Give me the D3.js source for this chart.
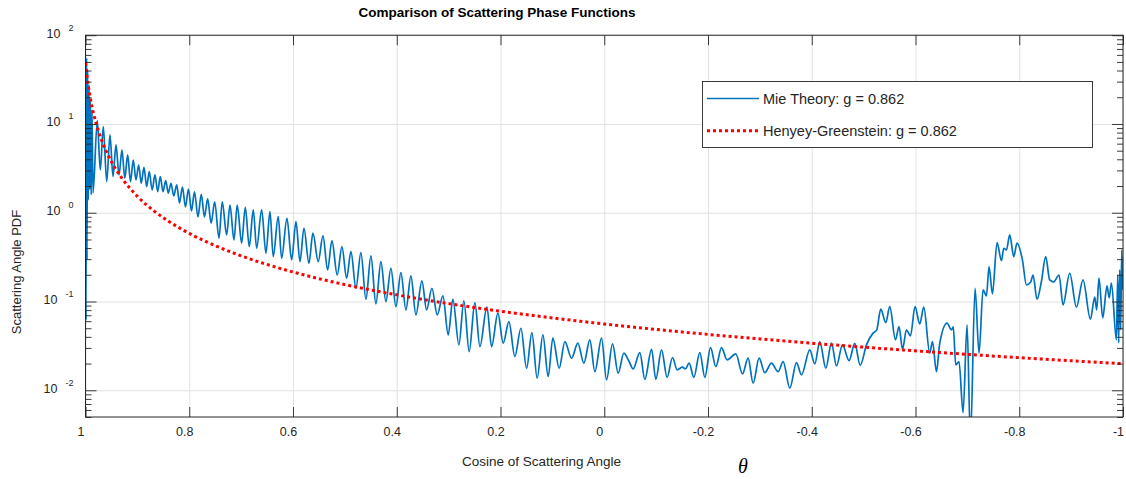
<!DOCTYPE html>
<html>
<head>
<meta charset="utf-8">
<script src="https://cdn.jsdelivr.net/npm/d3@7"></script>
<style>
  body { margin: 0; background: #fff; }
  svg text { font-family: "Liberation Sans", Arial, Helvetica, sans-serif; fill: #262626; }
</style>
</head>
<body>
<svg id="chart" width="1126" height="479"></svg>
<script>
// ---- data ----
const xTickValues = [1, 0.8, 0.6, 0.4, 0.2, 0, -0.2, -0.4, -0.6, -0.8, -1];
const yDecades = [-2, -1, 0, 1, 2];
const seriesNames = ["Mie Theory: g = 0.862", "Henyey-Greenstein: g = 0.862"];

// Mie phase function: cosine of scattering angle and PDF at its turning points
const mieCos = [
  1.0, 0.999, 0.998, 0.9971, 0.996, 0.9946, 0.9933, 0.9919, 0.9906, 0.989, 0.9875, 0.9855,
  0.9773, 0.9715, 0.9657, 0.9591, 0.9528, 0.947, 0.9412, 0.9354, 0.9297, 0.9243, 0.9187, 0.9133,
  0.9079, 0.9027, 0.8975, 0.8925, 0.8873, 0.8821, 0.8771, 0.8715, 0.8661, 0.8609, 0.8558, 0.8506,
  0.8454, 0.8404, 0.8352, 0.8298, 0.8242, 0.8188, 0.8131, 0.8073, 0.8015, 0.7957, 0.7899, 0.7832,
  0.7768, 0.7707, 0.7645, 0.7578, 0.751, 0.7427, 0.7364, 0.7279, 0.7215, 0.7138, 0.7075, 0.699,
  0.692, 0.6843, 0.6766, 0.6701, 0.6604, 0.6522, 0.6444, 0.6381, 0.6285, 0.6219, 0.6117, 0.6026,
  0.5943, 0.5866, 0.5789, 0.5693, 0.5616, 0.5514, 0.5423, 0.5332, 0.525, 0.5147, 0.5057, 0.4966,
  0.4883, 0.4787, 0.4691, 0.4594, 0.4498, 0.4402, 0.4305, 0.4209, 0.4113, 0.4016, 0.392, 0.3823,
  0.3727, 0.3631, 0.3515, 0.3425, 0.3322, 0.322, 0.311, 0.3008, 0.2918, 0.2802, 0.2706, 0.2604,
  0.2494, 0.2397, 0.2262, 0.2172, 0.205, 0.1948, 0.1838, 0.1723, 0.1607, 0.1497, 0.1395, 0.1293,
  0.1183, 0.1081, 0.0991, 0.0869, 0.0759, 0.063, 0.0509, 0.0393, 0.0278, 0.0181, 0.0052, -0.0044,
  -0.016, -0.0268, -0.0378, -0.0474, -0.0557, -0.0686, -0.0782, -0.0912, -0.0994, -0.1104, -0.1212, -0.1316,
  -0.1405, -0.1509, -0.1563, -0.1636, -0.1727, -0.1842, -0.1939, -0.2049, -0.2151, -0.2261, -0.2368, -0.2536,
  -0.2665, -0.2773, -0.287, -0.2985, -0.3095, -0.3224, -0.3351, -0.3448, -0.3577, -0.3706, -0.3802, -0.3962,
  -0.4059, -0.4155, -0.4271, -0.438, -0.4477, -0.4592, -0.472, -0.4829, -0.4935, -0.5055, -0.5182, -0.5253,
  -0.533, -0.5427, -0.5504, -0.5614, -0.5683, -0.5749, -0.5826, -0.5903, -0.5991, -0.6082, -0.6159, -0.6275,
  -0.6327, -0.6404, -0.6468, -0.6608, -0.6693, -0.6728, -0.6776, -0.6839, -0.6917, -0.6994, -0.7059, -0.7148,
  -0.7225, -0.7302, -0.7367, -0.7418, -0.7483, -0.7572, -0.7657, -0.7701, -0.7753, -0.7817, -0.7894, -0.7957,
  -0.8061, -0.8138, -0.8221, -0.8266, -0.8343, -0.8427, -0.851, -0.8587, -0.8664, -0.8767, -0.8844, -0.8973,
  -0.9102, -0.9229, -0.9372, -0.9455, -0.9493, -0.9537, -0.9609, -0.9692, -0.9734, -0.9776, -0.9873, -0.9898,
  -0.9917, -0.9936, -0.9956, -0.9975, -1.0
];
const miePdf = [
  46.2, 0.0621, 55.4, 0.294, 40.6, 1.39, 27.5, 1.81, 18.6, 1.59, 14.4, 1.67,
  10.9, 3.03, 9.32, 2.24, 7.52, 2.55, 5.80, 2.67, 5.10, 2.45, 4.48, 2.24,
  3.93, 2.34, 3.45, 2.15, 3.25, 1.97, 2.90, 1.81, 2.67, 1.73, 2.55, 1.73,
  2.30, 1.66, 2.15, 1.55, 2.06, 1.29, 1.95, 1.16, 1.85, 1.05, 1.72, 0.897,
  1.61, 0.897, 1.43, 0.762, 1.33, 0.516, 1.33, 0.562, 1.22, 0.494, 1.22, 0.454,
  1.15, 0.415, 1.08, 0.398, 1.08, 0.350, 1.03, 0.320, 0.904, 0.307, 0.867, 0.294,
  0.794, 0.281, 0.669, 0.270, 0.588, 0.281, 0.548, 0.227, 0.485, 0.199, 0.415, 0.183,
  0.365, 0.141, 0.355, 0.106, 0.326, 0.094, 0.281, 0.0997, 0.237, 0.0876, 0.212, 0.0804,
  0.194, 0.0707, 0.171, 0.0804, 0.141, 0.0707, 0.116, 0.0421, 0.106, 0.0325, 0.102, 0.0273,
  0.0972, 0.0311, 0.0863, 0.0311, 0.0738, 0.0339, 0.0594, 0.024, 0.05, 0.0177, 0.0447, 0.0137,
  0.0421, 0.0143, 0.0386, 0.0177, 0.0354, 0.023, 0.0339, 0.0202, 0.037, 0.0162, 0.0386, 0.0131,
  0.0333, 0.0156, 0.0262, 0.0214, 0.0174, 0.0266, 0.0133, 0.029, 0.0133, 0.0285, 0.014, 0.0234,
  0.017, 0.0182, 0.0174, 0.0202, 0.014, 0.0266, 0.014, 0.0303, 0.0185, 0.0303, 0.022, 0.0257,
  0.0153, 0.023, 0.012, 0.023, 0.0158, 0.0202, 0.0162, 0.021, 0.0106, 0.0205, 0.0149, 0.0285,
  0.0198, 0.0354, 0.0177, 0.0339, 0.0188, 0.0325, 0.0216, 0.0337, 0.0191, 0.0325, 0.044, 0.0479,
  0.0819, 0.0579, 0.0876, 0.037, 0.0522, 0.029, 0.0479, 0.041, 0.0876, 0.0559, 0.0863, 0.0262,
  0.0354, 0.0162, 0.0339, 0.057, 0.0479, 0.0518, 0.0193, 0.021, 0.00561, 0.0545, 0.00276, 0.141,
  0.0262, 0.135, 0.116, 0.247, 0.122, 0.461, 0.289, 0.398, 0.381, 0.562, 0.32, 0.454,
  0.294, 0.154, 0.166, 0.199, 0.106, 0.168, 0.32, 0.175, 0.166, 0.199, 0.0916, 0.208,
  0.0863, 0.175, 0.0632, 0.112, 0.0804, 0.183, 0.0654, 0.15, 0.11, 0.161, 0.037, 0.199,
  0.0342, 0.227, 0.0479, 0.381, 0.135
];

// Henyey-Greenstein phase function, g = 0.862
const hgCos = [1, 0.995, 0.99, 0.98, 0.97, 0.96, 0.95, 0.93, 0.9, 0.87, 0.84, 0.8, 0.75,
               0.7, 0.6, 0.5, 0.4, 0.3, 0.2, 0.1, 0, -0.2, -0.4, -0.6, -0.8, -1];
const hgPdf = [48.9, 27.9, 18.6, 10.4, 6.83, 4.92, 3.76, 2.46, 1.53, 1.07, 0.802, 0.585, 0.426,
               0.327, 0.215, 0.155, 0.119, 0.0947, 0.0777, 0.0653, 0.0558, 0.0426, 0.0339, 0.0278, 0.0233, 0.0199];

// ---- layout ----
const W = 1126, H = 479;
const plot = { left: 85.5, right: 1123, top: 35.2, bottom: 417 };
const pw = plot.right - plot.left, ph = plot.bottom - plot.top;
const ink = "#262626";

const x = d3.scaleLinear().domain([1, -1]).range([plot.left, plot.right]);
const y = d3.scaleLog().domain([0.005, 100]).range([plot.bottom, plot.top]);

const svg = d3.select("#chart");
svg.append("rect").attr("width", W).attr("height", H).attr("fill", "#fff");

const majorY = yDecades.map(e => Math.pow(10, e));
const minorY = [];
for (let e = -3; e <= 1; e++) {
  for (let k = 2; k <= 9; k++) {
    const v = k * Math.pow(10, e);
    if (v >= 0.005 && v <= 100) minorY.push(v);
  }
}

// grid
const grid = svg.append("g");
grid.append("g").attr("transform", `translate(0,${plot.bottom})`)
  .call(d3.axisBottom(x).tickValues(xTickValues).tickSize(-ph).tickSizeOuter(0).tickFormat(""));
grid.append("g").attr("transform", `translate(${plot.left},0)`)
  .call(d3.axisLeft(y).tickValues(majorY).tickSize(-pw).tickSizeOuter(0).tickFormat(""));
grid.selectAll(".domain").remove();
grid.selectAll("line").attr("stroke", "#e2e2e2").attr("stroke-width", 1);

// plot clip
svg.append("defs").append("clipPath").attr("id", "plotClip")
  .append("rect").attr("x", plot.left).attr("y", plot.top).attr("width", pw).attr("height", ph);

const line = d3.line()
  .x(d => x(d[0]))
  .y(d => y(d[1]))
  .curve(d3.curveMonotoneX);

const series = svg.append("g").attr("clip-path", "url(#plotClip)");
series.append("path")
  .datum(mieCos.map((c, i) => [c, miePdf[i]]))
  .attr("d", line)
  .attr("fill", "none")
  .attr("stroke", "#0072BD")
  .attr("stroke-width", 1.7)
  .attr("stroke-linejoin", "round");
series.append("path")
  .datum(hgCos.map((c, i) => [c, hgPdf[i]]))
  .attr("d", line)
  .attr("fill", "none")
  .attr("stroke", "#ff0000")
  .attr("stroke-width", 3)
  .attr("stroke-dasharray", "3,3");

// axes: ticks point inward on all four sides
function styleAxis(g) {
  g.selectAll(".domain").remove();
  g.selectAll("line").attr("stroke", ink).attr("stroke-width", 0.9);
  g.attr("font-family", null).attr("font-size", null);
}
const axes = svg.append("g");
axes.append("g").attr("transform", `translate(0,${plot.bottom})`)
  .call(d3.axisBottom(x).tickValues(xTickValues).tickSize(-10).tickSizeOuter(0).tickPadding(10)
    .tickFormat(d => String(d)))
  .call(styleAxis)
  .selectAll("text").attr("font-size", 12.5).attr("dx", -5).attr("fill", ink);
axes.append("g").attr("transform", `translate(0,${plot.top})`)
  .call(d3.axisTop(x).tickValues(xTickValues).tickSize(-10).tickSizeOuter(0).tickFormat(""))
  .call(styleAxis);
[[d3.axisLeft, plot.left], [d3.axisRight, plot.right]].forEach(([mk, pos]) => {
  axes.append("g").attr("transform", `translate(${pos},0)`)
    .call(mk(y).tickValues(majorY).tickSize(-11).tickSizeOuter(0).tickFormat(""))
    .call(styleAxis);
  axes.append("g").attr("transform", `translate(${pos},0)`)
    .call(mk(y).tickValues(minorY).tickSize(-6).tickSizeOuter(0).tickFormat(""))
    .call(styleAxis);
});
axes.append("rect")
  .attr("x", plot.left).attr("y", plot.top).attr("width", pw).attr("height", ph)
  .attr("fill", "none").attr("stroke", ink).attr("stroke-width", 1);

// power-of-ten labels on the y axis
yDecades.forEach(e => {
  const t = svg.append("text")
    .attr("x", 73.5).attr("y", y(Math.pow(10, e)) + 2.3)
    .attr("text-anchor", "end");
  t.append("tspan").attr("font-size", 12.5).text("10");
  t.append("tspan").attr("font-size", 9).attr("dx", 8).attr("dy", -7).text(String(e));
});

// titles
svg.append("text").attr("x", 497).attr("y", 17).attr("text-anchor", "middle")
  .attr("font-size", 13.5).attr("font-weight", "bold").style("fill", "#000")
  .text("Comparison of Scattering Phase Functions");
svg.append("text").attr("transform", "translate(21,272) rotate(-90)")
  .attr("text-anchor", "middle").attr("font-size", 13)
  .text("Scattering Angle PDF");
svg.append("text").attr("x", 541.5).attr("y", 466).attr("text-anchor", "middle")
  .attr("font-size", 13.5).text("Cosine of Scattering Angle");
svg.append("text").attr("x", 743).attr("y", 473).attr("text-anchor", "middle")
  .attr("font-size", 20).attr("font-style", "italic")
  .style("font-family", "'Liberation Serif', 'Times New Roman', serif").style("fill", "#000")
  .text("θ");

// legend
const legend = svg.append("g");
legend.append("rect").attr("x", 702.5).attr("y", 81.5).attr("width", 390).attr("height", 66)
  .attr("fill", "#fff").attr("stroke", ink).attr("stroke-width", 0.9);
const legendStyles = [
  { color: "#0072BD", width: 1.7, dash: null, ly: 98.5 },
  { color: "#ff0000", width: 3, dash: "3,3", ly: 130.7 }
];
seriesNames.forEach((name, i) => {
  const s = legendStyles[i];
  legend.append("line").attr("x1", 707).attr("x2", 759).attr("y1", s.ly).attr("y2", s.ly)
    .attr("stroke", s.color).attr("stroke-width", s.width)
    .attr("stroke-dasharray", s.dash);
  legend.append("text").attr("x", 763).attr("y", s.ly + 5).attr("font-size", 14.5).text(name);
});
</script>
</body>
</html>
